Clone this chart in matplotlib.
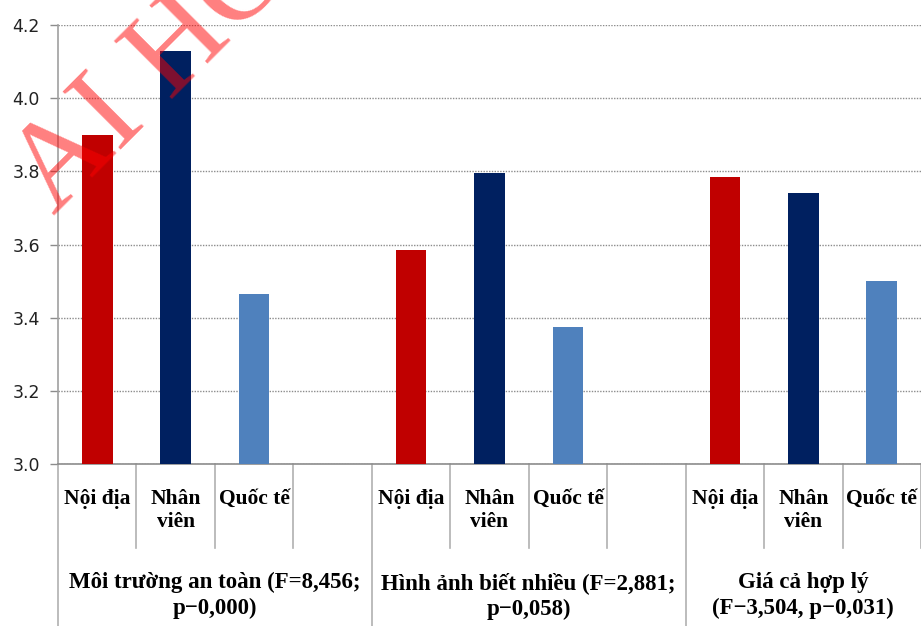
import matplotlib
matplotlib.use("Agg")
import matplotlib.pyplot as plt
import numpy as np

# Mean scores per criterion and visitor segment
groups = ["Môi trường an toàn (F=8,456;\np\u22120,000)",
          "Hình ảnh biết nhiều (F=2,881;\np\u22120,058)",
          "Giá cả hợp lý\n(F\u22123,504, p\u22120,031)"]
segments = ["Nội địa", "Nhân\nviên", "Quốc tế"]
noi_dia = [3.90, 3.585, 3.785]
nhan_vien = [4.13, 3.795, 3.74]
quoc_te = [3.465, 3.375, 3.50]
y_ticks = [3.0, 3.2, 3.4, 3.6, 3.8, 4.0, 4.2]

series = [noi_dia, nhan_vien, quoc_te]
colors = ["#C00000", "#002060", "#4F81BD"]

fig = plt.figure(figsize=(9.21, 6.26), dpi=100)
ax = fig.add_axes([58 / 921, 1 - 464.3 / 626, 863 / 921, 439.3 / 626])

# each group takes four slots (three bars plus a gap); the last has no gap
n_slots = 4 * len(groups) - 1
for i, (vals, col) in enumerate(zip(series, colors)):
    xs = [4 * g + i for g in range(len(groups))]
    ax.bar(xs, [v - 3.0 for v in vals], bottom=3.0, width=0.39,
           color=col, zorder=3)

ax.set_xlim(-0.5, n_slots - 0.5)
ax.set_ylim(3.0, 4.2)
ax.set_yticks(y_ticks)
ax.set_yticklabels([f"{t:.1f}" for t in y_ticks])
ax.yaxis.grid(True, color="#8c8c8c", linestyle=(0, (1, 1)), linewidth=1.0, zorder=0)
ax.set_axisbelow(True)
ax.tick_params(axis="y", length=6, width=1, color="#8c8c8c", pad=7,
               labelsize=12.5, labelcolor="#222222")
ax.set_xticks([])
for s in ["top", "right"]:
    ax.spines[s].set_visible(False)
ax.spines["left"].set_color("#a0a0a0")
ax.spines["bottom"].set_color("#8c8c8c")
ax.spines["left"].set_linewidth(1.2)
ax.spines["bottom"].set_linewidth(1.2)

# category table under the axis
xt = ax.get_xaxis_transform()
short = -84 / 439.3
for k in range(n_slots + 1):
    xb = k - 0.5
    full = (k % 4 == 0)
    ax.plot([xb, xb], [0, -1.2 if full else short], transform=xt,
            color="#b0b0b0", linewidth=1.2, clip_on=False)

serif = "Liberation Serif"
for g in range(len(groups)):
    for i, lab in enumerate(segments):
        ax.text(4 * g + i, -0.056, lab, transform=xt, ha="center", va="top",
                fontsize=15.5, fontweight="bold", family=serif,
                linespacing=1.2, color="black")
    start = 4 * g - 0.5
    end = min(4 * g + 3.5, n_slots - 0.5)
    ax.text((start + end) / 2, -0.245, groups[g], transform=xt,
            ha="center", va="top", fontsize=16.5, fontweight="bold",
            family=serif, linespacing=1.32, color="black")

# watermark
fig.text(54 / 921, 1 - 216 / 626, "AI HOC", rotation=45, rotation_mode="anchor",
         ha="left", va="baseline", fontsize=90, family=serif,
         color="red", alpha=0.5, zorder=10)

fig.savefig("out.png", dpi=100)
